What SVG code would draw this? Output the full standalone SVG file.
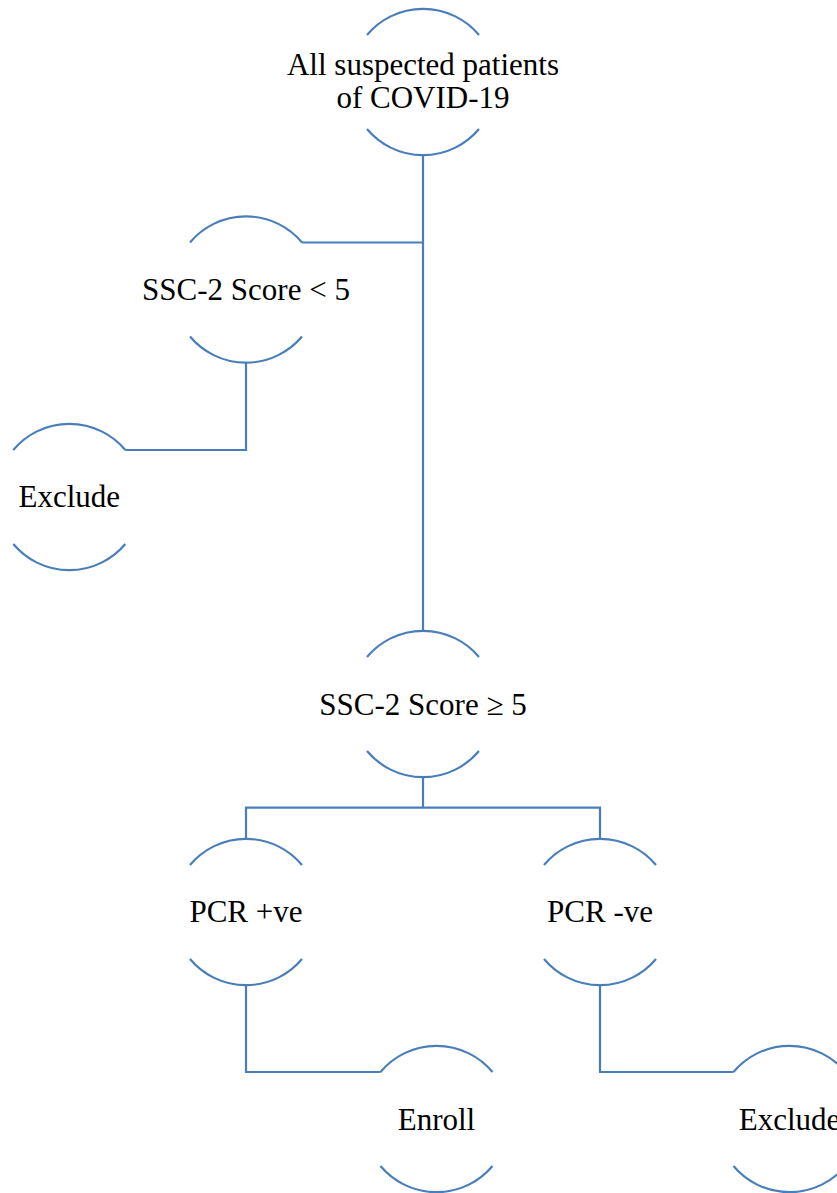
<svg xmlns="http://www.w3.org/2000/svg" width="837" height="1193" viewBox="0 0 837 1193">
<defs>
<style>
.arc{fill:none;stroke:#4a7ebb;stroke-width:2.2}
.con{fill:none;stroke:#4a7ebb;stroke-width:2.2}
text{font-family:"Liberation Serif","Tinos","Times New Roman",Times,"DejaVu Serif",serif;font-size:31px;fill:#000;text-anchor:middle}
</style>
</defs>
<rect width="837" height="1193" fill="#fff"/>
<g id="connectors">
<path class="con" d="M423,155 V631"/>
<path class="con" d="M423,242.5 H302"/>
<path class="con" d="M246,362.5 V450 H125.3"/>
<path class="con" d="M423,777 V807.7"/>
<path class="con" d="M246,839 V807.7 H600 V839"/>
<path class="con" d="M246,985 V1072 H380.5"/>
<path class="con" d="M600,985 V1072 H733.5"/>
</g>
<g id="n1">
<path class="arc" d="M367,35 A73 73 0 0 1 479,35 M367,129 A73 73 0 0 0 479,129"/>
<text x="423" y="75">All suspected patients</text>
<text x="423" y="108">of COVID-19</text>
</g>
<g id="n2">
<path class="arc" d="M190,242.5 A73 73 0 0 1 302,242.5 M190,336.5 A73 73 0 0 0 302,336.5"/>
<text x="246" y="299.5">SSC-2 Score &lt; 5</text>
</g>
<g id="n3">
<path class="arc" d="M13.3,450 A73 73 0 0 1 125.3,450 M13.3,544 A73 73 0 0 0 125.3,544"/>
<text x="69.3" y="507">Exclude</text>
</g>
<g id="n4">
<path class="arc" d="M367,657 A73 73 0 0 1 479,657 M367,751 A73 73 0 0 0 479,751"/>
<text x="423" y="715">SSC-2 Score ≥ 5</text>
</g>
<g id="n5">
<path class="arc" d="M190,865 A73 73 0 0 1 302,865 M190,959 A73 73 0 0 0 302,959"/>
<text x="246" y="922">PCR +ve</text>
</g>
<g id="n6">
<path class="arc" d="M544,865 A73 73 0 0 1 656,865 M544,959 A73 73 0 0 0 656,959"/>
<text x="600" y="922">PCR -ve</text>
</g>
<g id="n7">
<path class="arc" d="M380.5,1072 A73 73 0 0 1 492.5,1072 M380.5,1166 A73 73 0 0 0 492.5,1166"/>
<text x="436.5" y="1129.5">Enroll</text>
</g>
<g id="n8">
<path class="arc" d="M733.5,1072 A73 73 0 0 1 845.5,1072 M733.5,1166 A73 73 0 0 0 845.5,1166"/>
<text x="789.5" y="1129.5">Exclude</text>
</g>
</svg>
